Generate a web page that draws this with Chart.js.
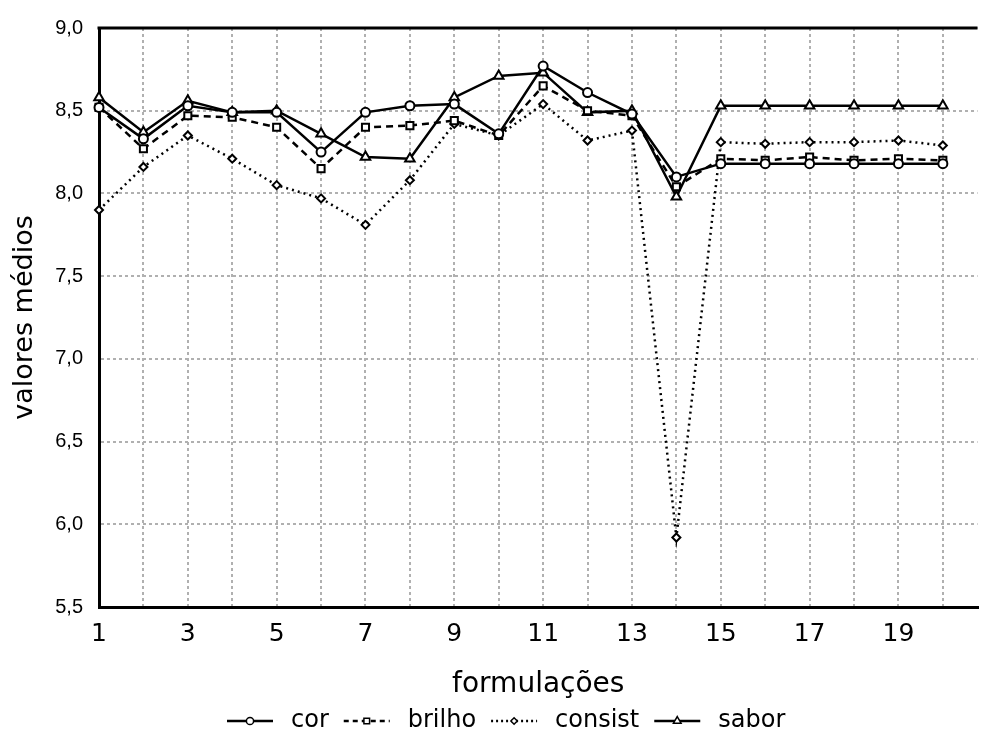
<!DOCTYPE html>
<html>
<head>
<meta charset="utf-8">
<script src="https://cdn.jsdelivr.net/npm/chart.js@4"></script>
<style>
  html, body { margin: 0; padding: 0; background: #fff; }
  #wrap { width: 985px; height: 740px; }
</style>
</head>
<body>
<div id="wrap"><canvas id="chart" width="985" height="740"></canvas></div>
<script>
// formulações 1..20
const formulacoes = [1, 2, 3, 4, 5, 6, 7, 8, 9, 10, 11, 12, 13, 14, 15, 16, 17, 18, 19, 20];
const cor     = [8.52, 8.33, 8.53, 8.49, 8.49, 8.25, 8.49, 8.53, 8.54, 8.36, 8.77, 8.61, 8.48, 8.10, 8.18, 8.18, 8.18, 8.18, 8.18, 8.18];
const brilho  = [8.52, 8.27, 8.47, 8.46, 8.40, 8.15, 8.40, 8.41, 8.44, 8.35, 8.65, 8.50, 8.47, 8.04, 8.21, 8.20, 8.22, 8.20, 8.21, 8.20];
const consist = [7.90, 8.16, 8.35, 8.21, 8.05, 7.97, 7.81, 8.08, 8.42, 8.35, 8.54, 8.32, 8.38, 5.92, 8.31, 8.30, 8.31, 8.31, 8.32, 8.29];
const sabor   = [8.58, 8.37, 8.56, 8.49, 8.50, 8.36, 8.22, 8.21, 8.58, 8.71, 8.73, 8.49, 8.50, 7.98, 8.53, 8.53, 8.53, 8.53, 8.53, 8.53];
const xTickLabels = ['1', '3', '5', '7', '9', '11', '13', '15', '17', '19'];
const yTickLabels = ['5,5', '6,0', '6,5', '7,0', '7,5', '8,0', '8,5', '9,0'];

const toPoints = (arr) => arr.map((v, i) => ({ x: formulacoes[i], y: v }));

const series = [
    { label: 'cor',     data: cor,     dash: [],     point: 'circle',   radius: 4.5 },
    { label: 'brilho',  data: brilho,  dash: [7, 5], point: 'rect',     radius: 5 },
    { label: 'consist', data: consist, dash: [2, 4], point: 'rectRot',  radius: 4 },
    { label: 'sabor',   data: sabor,   dash: [],     point: 'triangle', radius: 5.5 }
];

// legend drawn under the axis title: line sample with marker, then the label
const bottomLegend = {
    id: 'bottomLegend',
    afterDraw(chart) {
        const ctx = chart.ctx;
        const y = 721;
        let x = 227;
        ctx.save();
        ctx.font = '24px "DejaVu Sans"';
        ctx.textBaseline = 'middle';
        series.forEach(s => {
            const seg = 46;
            ctx.strokeStyle = '#000';
            ctx.lineWidth = 2.5;
            ctx.setLineDash(s.dash.length ? (s.dash[0] < 4 ? [2, 3] : [5, 4]) : []);
            ctx.beginPath();
            ctx.moveTo(x, y);
            ctx.lineTo(x + seg, y);
            ctx.stroke();
            ctx.setLineDash([]);
            ctx.lineWidth = 1.5;
            ctx.fillStyle = '#fff';
            Chart.helpers.drawPoint(ctx, {
                pointStyle: s.point,
                radius: s.radius * 0.8,
                borderWidth: 1.5
            }, x + seg / 2, y);
            ctx.fillStyle = '#000';
            x += seg + 18;
            ctx.fillText(s.label, x, y);
            x += ctx.measureText(s.label).width + 15;
        });
        // top frame line
        const area = chart.chartArea;
        ctx.strokeStyle = '#000';
        ctx.lineWidth = 3;
        ctx.beginPath();
        ctx.moveTo(area.left - 1.5, area.top);
        ctx.lineTo(area.right, area.top);
        ctx.stroke();
        ctx.restore();
    }
};

new Chart(document.getElementById('chart'), {
    type: 'line',
    data: {
        datasets: series.map(s => ({
            label: s.label,
            data: toPoints(s.data),
            borderColor: '#000',
            borderWidth: 2.5,
            borderDash: s.dash,
            backgroundColor: '#fff',
            pointStyle: s.point,
            pointRadius: s.radius,
            pointBorderWidth: 2,
            pointBorderColor: '#000',
            pointBackgroundColor: '#fff',
            tension: 0,
            clip: false
        }))
    },
    options: {
        responsive: false,
        animation: false,
        layout: { padding: { top: 25, right: 0, bottom: 33, left: 0 } },
        plugins: {
            legend: { display: false },
            tooltip: { enabled: false }
        },
        scales: {
            x: {
                type: 'linear',
                min: 1,
                max: 20.78,
                afterBuildTicks: (scale) => {
                    scale.ticks = formulacoes.map(v => ({ value: v }));
                },
                afterFit: (scale) => { scale.height = 100; },
                ticks: {
                    autoSkip: false,
                    maxRotation: 0,
                    padding: 12,
                    color: '#000',
                    font: { family: 'DejaVu Sans', size: 25 },
                    callback: (value) => xTickLabels.includes(String(value)) ? String(value) : ''
                },
                grid: {
                    color: '#b0b0b0',
                    lineWidth: 2,
                    drawTicks: false
                },
                border: { display: true, color: '#000', width: 3, dash: [3, 3] },
                title: {
                    display: true,
                    text: 'formulações',
                    color: '#000',
                    font: { family: 'DejaVu Sans', size: 28 },
                    padding: { top: 0, bottom: 5 }
                }
            },
            y: {
                min: 5.5,
                max: 9.0,
                afterBuildTicks: (scale) => {
                    scale.ticks = yTickLabels.map(t => ({ value: parseFloat(t.replace(',', '.')) }));
                },
                afterFit: (scale) => { scale.width = 99; },
                ticks: {
                    padding: 16,
                    color: '#000',
                    font: { family: 'Liberation Sans', size: 20 },
                    callback: (value) => value.toFixed(1).replace('.', ',')
                },
                grid: {
                    color: '#b0b0b0',
                    lineWidth: 2,
                    drawTicks: false
                },
                border: { display: true, color: '#000', width: 3, dash: [3, 3] },
                title: {
                    display: true,
                    text: 'valores médios',
                    color: '#000',
                    font: { family: 'DejaVu Sans', size: 27 },
                    padding: { top: 9, bottom: 0 }
                }
            }
        }
    },
    plugins: [bottomLegend]
});
</script>
</body>
</html>
